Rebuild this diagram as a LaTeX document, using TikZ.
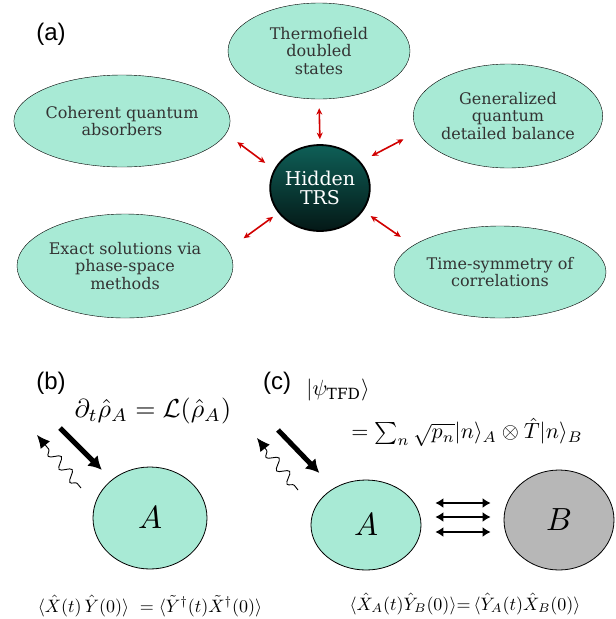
\documentclass[tikz,border=0pt]{standalone}
\usepackage{fontspec}
\setmainfont{DejaVu Serif}
\newfontfamily\labelfont{Liberation Sans}
\usepackage{amsmath}
\usepackage{amssymb}
\usepackage{graphicx}
\usepackage{xcolor}
\usetikzlibrary{arrows.meta,shapes.geometric,decorations.pathmorphing}

\definecolor{mint}{HTML}{A8EAD5}
\definecolor{inkgray}{HTML}{333333}
\definecolor{hubtop}{HTML}{0E5F57}
\definecolor{hubbot}{HTML}{041816}
\definecolor{linkred}{HTML}{D10000}
\definecolor{bgray}{HTML}{B7B7B7}

\begin{document}
\begin{tikzpicture}[x=1pt, y=-1pt,
    bubble/.style={ellipse, draw, thin, fill=mint, text=inkgray, align=center, inner sep=0pt, font=\fontsize{16}{17.5}\selectfont},
    hub/.style={ellipse, draw, line width=1.8pt, top color=hubtop, bottom color=hubbot, text=white, align=center, inner sep=0pt, font=\fontsize{19}{18.5}\selectfont},
    link/.style={{Stealth[length=6.5pt,width=6pt]}-{Stealth[length=6.5pt,width=6pt]}, line width=1.6pt, draw=linkred},
    sys/.style={ellipse, draw, thick, inner sep=0pt},
    push/.style={-{Latex[length=13pt,width=15pt]}, line width=5pt},
    emit/.style={-{Latex[length=13pt,width=12pt]}, line width=0.9pt, decorate, decoration={snake, amplitude=5pt, segment length=17pt, pre length=6pt, post length=12pt}},
    swap/.style={{Latex[length=8pt,width=10pt]}-{Latex[length=8pt,width=10pt]}, line width=2.8pt},
    tag/.style={font=\labelfont\fontsize{24}{26}\selectfont},
    eq/.style={inner sep=0pt}
]
\useasboundingbox (0,0) rectangle (616,619);

% (a) the hub and what it links to
\node[tag] (la) at (51,34) {(a)};
\node[bubble, minimum width=182, minimum height=96]  (thermo)  at (319,51)  {Thermofield\\doubled\\states};
\node[bubble, minimum width=212, minimum height=92]  (absorb)  at (122,121) {Coherent quantum\\absorbers};
\node[bubble, minimum width=186, minimum height=104] (balance) at (508,116) {Generalized\\quantum\\detailed balance};
\node[bubble, minimum width=216, minimum height=104] (exact)   at (125,266) {Exact solutions via\\phase-space\\methods};
\node[bubble, minimum width=212, minimum height=92]  (corr)    at (500,272) {Time-symmetry of\\correlations};
\node[hub, minimum width=96, minimum height=86] (trs) at (320,188) {Hidden\\TRS};

\draw[link, shorten <=5pt, shorten >=9pt]       (trs.north) -- (thermo.south);
\draw[link, shorten <=11pt, shorten >=14pt]     (trs.158) -- (absorb.-7);
\draw[link, shorten <=12.5pt, shorten >=16pt]   (trs.33)  -- (balance.190);
\draw[link, shorten <=6.5pt, shorten >=19.5pt]  (trs.211) -- (exact.9);
\draw[link, shorten <=9pt, shorten >=15pt]      (trs.-28) -- (corr.163);

% (b) open system
\node[tag] (lb) at (51,383) {(b)};
\node[eq] (lindb) at (153,411) {\scalebox{2.6}{$\partial_t\hat{\rho}_A=\mathcal{L}(\hat{\rho}_A)$}};
\node[sys, fill=mint, minimum width=114, minimum height=102] (Ab) at (150,518) {\scalebox{3.2}{$A$}};
\coordinate (inb)  at (60,428);
\coordinate (embb) at (81,488);
\coordinate (outb) at (37,435);
\draw[push, shorten >=14pt] (inb) -- (Ab.135);
\draw[emit] (embb) -- (outb);
\node[eq] (corrb) at (150,606)
    {\scalebox{1.8}{$\langle\hat{X}(t)\,\hat{Y}(0)\rangle\ =\langle\tilde{Y}^\dagger(t)\tilde{X}^\dagger(0)\rangle$}};

% (c) thermofield double
\node[tag] (lc) at (277,383) {(c)};
\node[eq] (tfd) at (338,390) {\scalebox{2.2}{$|\psi_{\mathrm{TFD}}\rangle$}};
\node[eq] (tfdsum) at (467,432)
    {\scalebox{2.2}{$=\sum_n\sqrt{p_n}|n\rangle_A\otimes\hat{T}|n\rangle_B$}};
\node[sys, fill=mint,  minimum width=110, minimum height=90]  (Ac) at (366,525) {\scalebox{3.2}{$A$}};
\node[sys, fill=bgray, minimum width=110, minimum height=100] (Bc) at (559,520) {\scalebox{3.2}{$B$}};
\coordinate (inc)  at (278,430);
\coordinate (embc) at (298,490);
\coordinate (outc) at (257,438);
\draw[push, shorten >=21pt] (inc) -- (Ac.131);
\draw[emit] (embc) -- (outc);
\draw[swap, shorten <=14pt, shorten >=13pt] ([yshift=22pt]Ac.east) -- ([yshift=17pt]Bc.west);
\draw[swap, shorten <=14pt, shorten >=13pt] ([yshift=8pt]Ac.east)  -- ([yshift=3pt]Bc.west);
\draw[swap, shorten <=14pt, shorten >=13pt] ([yshift=-7pt]Ac.east) -- ([yshift=-12pt]Bc.west);
\node[eq] (corrc) at (465,604)
    {\scalebox{1.8}{$\langle\hat{X}_A(t)\hat{Y}_B(0)\rangle{=}\,\langle\hat{Y}_A(t)\hat{X}_B(0)\rangle$}};
\end{tikzpicture}
\end{document}
